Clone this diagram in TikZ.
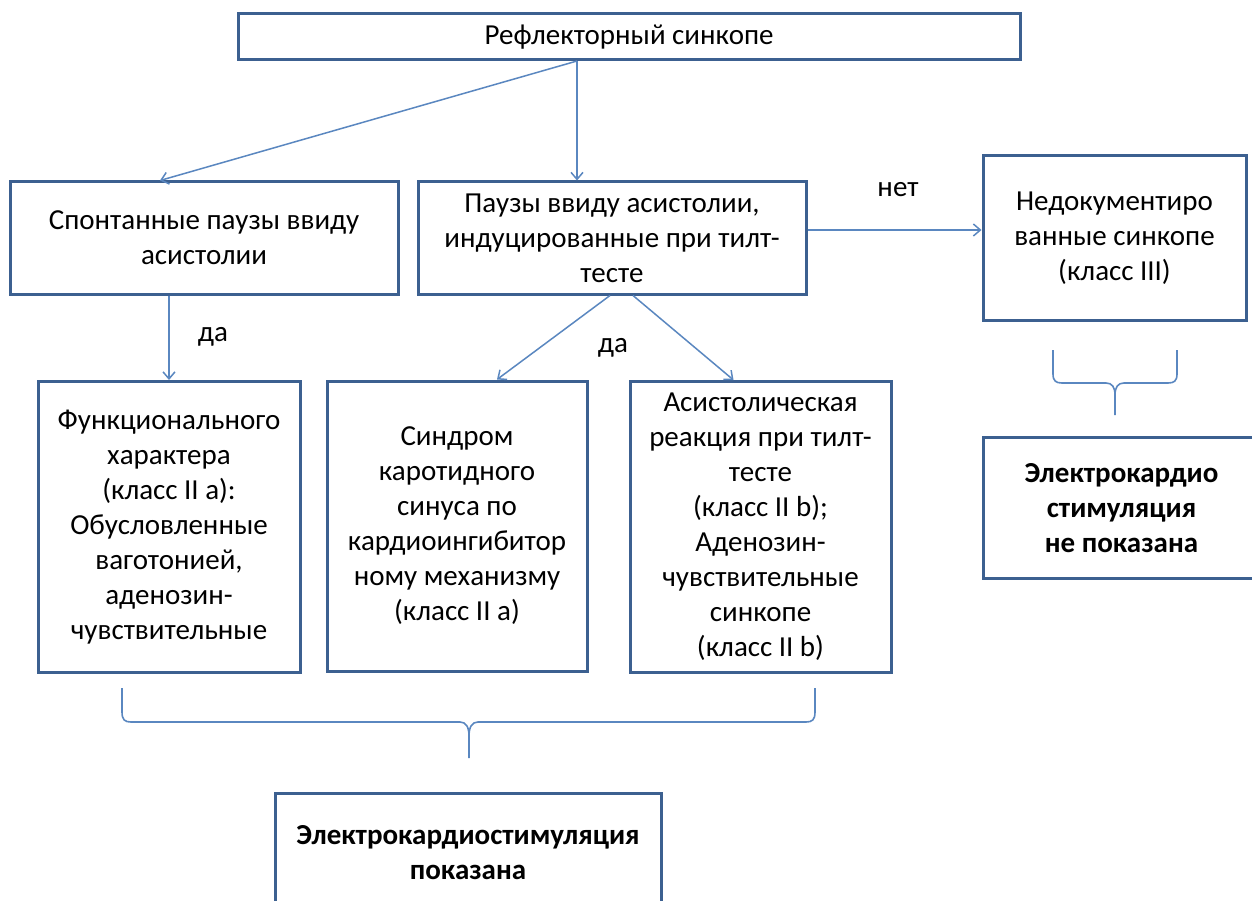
\documentclass[tikz,border=0pt]{standalone}
\usepackage{fontspec}
\setmainfont{Carlito}
\usetikzlibrary{arrows.meta}
\definecolor{boxline}{HTML}{3C6090}
\definecolor{arrline}{HTML}{5A87C0}
\tikzset{
  box/.style={draw=boxline, line width=3pt, inner sep=0pt, align=center,
    font=\fontsize{29}{35}\selectfont, text=black},
  lbl/.style={font=\fontsize{29}{35}\selectfont, text=black, inner sep=0pt},
  conn/.style={draw=arrline, line width=1.5pt, -{Straight Barb[length=7pt,width=12pt]}},
  bracepath/.style={draw=arrline, line width=1.6pt}
}
\begin{document}
\begin{tikzpicture}[x=1pt,y=-1pt]
\useasboundingbox (0,0) rectangle (1252,901);
\clip (0,0) rectangle (1252,901);
\fill[white] (0,0) rectangle (1252,901);

\node[box, minimum width=782pt, minimum height=46pt] (top) at (629,37) {Рефлекторный синкопе};
\node[box, minimum width=388pt, minimum height=112pt] (spont) at (204,238) {Спонтанные паузы ввиду\\асистолии};
\node[box, minimum width=388pt, minimum height=112pt] (paus) at (612,238) {Паузы ввиду асистолии,\\индуцированные при тилт-\\тесте};
\node[box, minimum width=263pt, minimum height=164pt] (undoc) at (1114.5,238) {Недокументиро\\ванные синкопе\\(класс III)};
\node[box, minimum width=262pt, minimum height=291pt] (func) at (169,527) {Функционального\\характера\\(класс II a):\\Обусловленные\\ваготонией,\\аденозин-\\чувствительные};
\node[box, minimum width=260pt, minimum height=290pt] (synd) at (457,526) {Синдром\\каротидного\\синуса по\\кардиоингибитор\\ному механизму\\(класс II a)};
\node[box, minimum width=261pt, minimum height=291pt] (asys) at (760.5,527) {Асистолическая\\реакция при тилт-\\тесте\\(класс II b);\\Аденозин-\\чувствительные\\синкопе\\(класс II b)};
\node[box, font=\fontsize{29}{35}\selectfont\bfseries, minimum width=277pt, minimum height=141pt] (enot) at (1121.5,508) {Электрокардио\\стимуляция\\не показана};
\node[box, font=\fontsize{29}{35}\selectfont\bfseries, minimum width=386pt, minimum height=120pt] (eyes) at (468,853) {Электрокардиостимуляция\\показана};

\node[lbl] (da1) at (213,337) {да};
\node[lbl] (da2) at (613,348) {да};
\node[lbl] (net) at (898,190) {нет};

\coordinate (t1) at (577,61);
\draw[conn] (t1) -- (t1 |- paus.north);
\draw[conn] (t1) -- ([xshift=-44pt]spont.north);
\draw[conn] (func.north |- spont.south) -- (func.north);
\draw[conn] ([xshift=-2pt]paus.south) -- ([xshift=40pt]synd.north);
\draw[conn] ([xshift=21pt]paus.south) -- ([xshift=-27pt]asys.north);
\draw[conn] ([yshift=8pt]paus.east) -- ([yshift=8pt]undoc.west);

% bottom brace
\coordinate (b1) at (469,758);
\draw[bracepath] (122,688) -- (122,712) .. controls (122,720) and (125,722) .. (131,722) -- (460,722) .. controls (466,722) and (469,727) .. (469,736) -- (b1);
\draw[bracepath] (815,688) -- (815,712) .. controls (815,720) and (812,722) .. (806,722) -- (478,722) .. controls (472,722) and (469,727) .. (469,736);

% right brace
\coordinate (b2) at (1115,415);
\draw[bracepath] (1053,350) -- (1053,374) .. controls (1053,381) and (1056,383) .. (1062,383) -- (1106,383) .. controls (1112,383) and (1115,387) .. (1115,395) -- (b2);
\draw[bracepath] (1177,350) -- (1177,374) .. controls (1177,381) and (1174,383) .. (1168,383) -- (1124,383) .. controls (1118,383) and (1115,387) .. (1115,395);
\end{tikzpicture}
\end{document}
